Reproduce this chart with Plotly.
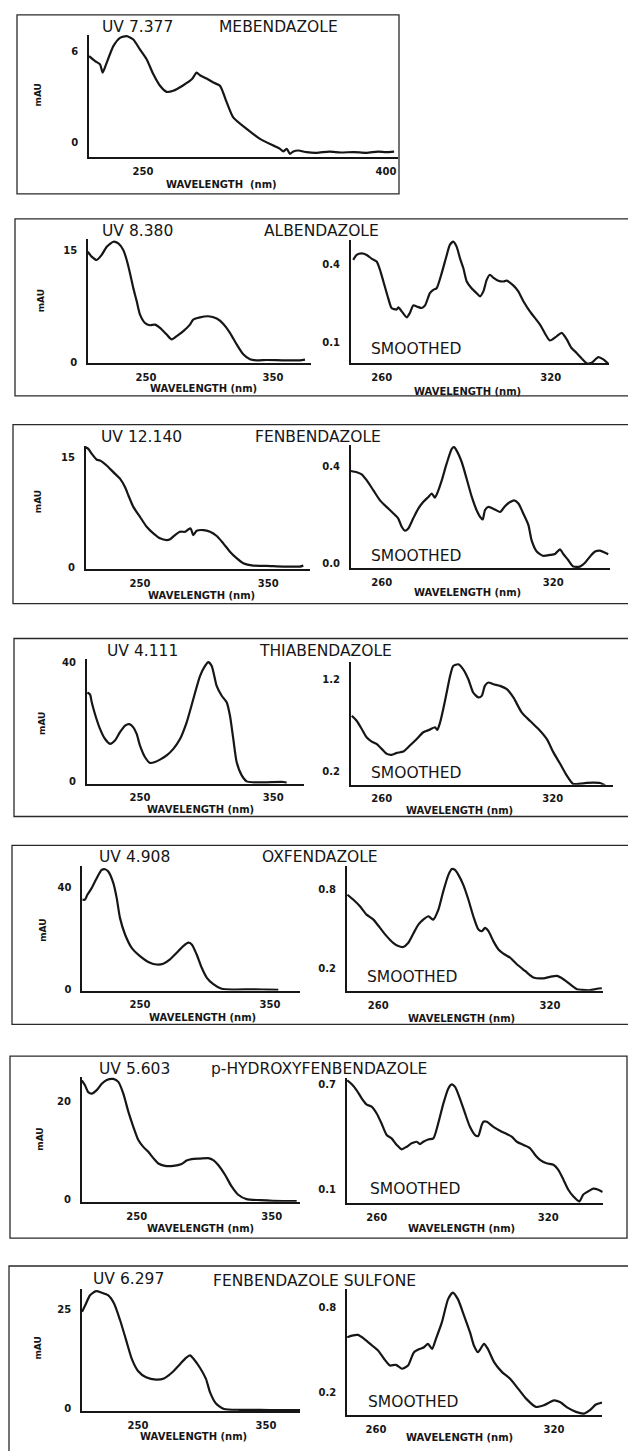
import plotly.graph_objects as go

W, H = 628, 1451
INK = "#161616"

# ---------------- data (wavelength nm, absorbance mAU) ----------------
meb_wl = [216.7, 220.4, 223.5, 225.1, 227.2, 231.7, 235.8, 239.9, 244.0, 248.1, 252.3, 256.4, 260.5, 264.6,
          268.7, 274.9, 280.1, 283.1, 285.2, 289.3, 293.4, 297.5, 301.7, 305.7, 314.0, 322.2, 330.4, 334.6,
          336.6, 338.7, 340.7, 342.8, 345.9, 351.0, 357.2, 365.0, 372.0, 380.0, 388.0, 395.0, 400.0, 405.0]
meb_abs = [5.71, 5.38, 5.16, 4.61, 5.16, 6.37, 6.92, 7.03, 6.81, 6.15, 5.49, 4.50, 3.74, 3.34,
           3.41, 3.78, 4.17, 4.61, 4.44, 4.22, 3.96, 3.74, 2.64, 1.65, 0.88, 0.22, -0.22, -0.44,
           -0.61, -0.44, -0.77, -0.61, -0.55, -0.66, -0.70, -0.62, -0.68, -0.65, -0.70, -0.62, -0.66, -0.62]

alb_wl = [204.1, 207.2, 211.2, 215.1, 219.1, 224.3, 228.2, 232.1, 234.8, 237.4, 240.0, 242.7, 245.3, 249.2,
          253.1, 257.1, 261.0, 266.3, 270.2, 274.2, 279.4, 284.6, 287.2, 292.5, 299.1, 305.7, 310.9, 316.1,
          321.4, 326.6, 331.9, 337.1, 345.0, 358.1, 371.3, 375.2]
alb_abs = [14.86, 14.19, 13.74, 14.42, 15.53, 16.2, 15.97, 15.08, 13.74, 11.95, 9.95, 8.17, 6.38, 5.26,
           4.95, 5.04, 4.6, 3.7, 3.04, 3.48, 4.15, 5.04, 5.71, 6.02, 6.16, 5.85, 5.13, 3.93,
           2.37, 1.03, 0.36, 0.22, 0.27, 0.22, 0.22, 0.31]

alb_s_wl = [249.9, 251.1, 252.9, 254.7, 256.5, 258.2, 259.4, 260.6, 262.3, 263.5, 265.3, 265.9, 267.1, 268.9,
            270.0, 271.2, 272.4, 274.2, 275.4, 277.1, 278.3, 279.5, 281.3, 283.1, 284.2, 285.4, 286.6, 287.8,
            289.0, 290.2, 291.9, 293.7, 294.9, 296.1, 297.3, 298.4, 299.6, 301.4, 303.2, 304.4, 306.7, 308.5,
            310.3, 312.6, 316.2, 319.7, 322.1, 323.9, 325.7, 327.4, 329.2, 331.0, 332.8, 334.5, 336.9, 338.7, 340.5]
alb_s_abs = [0.419, 0.438, 0.444, 0.438, 0.423, 0.413, 0.381, 0.336, 0.272, 0.234, 0.228, 0.236, 0.221, 0.198,
             0.215, 0.244, 0.240, 0.234, 0.244, 0.291, 0.304, 0.310, 0.368, 0.438, 0.477, 0.489, 0.470, 0.425,
             0.387, 0.336, 0.310, 0.291, 0.279, 0.298, 0.343, 0.362, 0.351, 0.339, 0.336, 0.339, 0.321, 0.298,
             0.260, 0.221, 0.170, 0.109, 0.125, 0.138, 0.113, 0.080, 0.061, 0.040, 0.021, 0.023, 0.045, 0.036, 0.019]

fen_wl = [207.7, 209.7, 212.4, 216.3, 218.8, 224.0, 229.2, 234.4, 238.3, 240.9, 244.8, 250.0, 255.2, 260.4,
          265.6, 270.8, 273.4, 277.3, 281.2, 285.1, 287.6, 289.5, 291.5, 294.2, 299.3, 304.6, 309.8, 314.9,
          320.1, 325.3, 330.5, 338.3, 348.7, 361.7, 374.7, 377.3]
fen_abs = [16.44, 16.22, 15.54, 14.73, 14.63, 13.95, 13.04, 12.15, 11.0, 9.88, 8.29, 6.93, 5.57, 4.67,
           3.99, 3.76, 3.86, 4.44, 4.89, 4.89, 5.21, 5.35, 4.44, 5.03, 5.12, 4.89, 4.31, 3.31,
           2.17, 1.28, 0.60, 0.27, 0.23, 0.14, 0.14, 0.27]

fen_s_wl = [249.2, 251.3, 253.0, 254.8, 257.1, 259.4, 261.7, 264.1, 265.8, 267.0, 268.1, 269.3, 271.0, 272.8,
            274.5, 276.3, 277.5, 278.6, 279.8, 281.0, 282.7, 284.5, 285.3, 286.2, 288.0, 289.7, 291.5, 293.2,
            294.4, 295.3, 296.1, 297.3, 299.6, 301.4, 303.1, 304.9, 306.3, 307.8, 309.5, 311.3, 312.4, 314.2,
            316.5, 318.9, 320.6, 322.3, 323.5, 325.2, 327.0, 329.3, 331.1, 332.8, 334.6, 336.3, 338.1, 339.2]
fen_s_abs = [0.380, 0.375, 0.366, 0.341, 0.300, 0.259, 0.232, 0.205, 0.184, 0.150, 0.134, 0.143, 0.184, 0.225,
             0.252, 0.273, 0.287, 0.270, 0.300, 0.341, 0.410, 0.471, 0.478, 0.464, 0.416, 0.348, 0.273, 0.218,
             0.191, 0.180, 0.218, 0.232, 0.221, 0.211, 0.235, 0.252, 0.259, 0.246, 0.205, 0.157, 0.095, 0.048,
             0.030, 0.034, 0.038, 0.057, 0.038, 0.013, -0.014, -0.014, 0.002, 0.027, 0.048, 0.052, 0.043, 0.037]

thia_wl = [210.5, 212.5, 213.8, 216.2, 220.0, 223.8, 227.5, 231.2, 235.0, 238.8, 242.0, 245.0, 247.5, 250.0,
           253.8, 257.5, 261.3, 265.0, 270.0, 275.0, 280.0, 285.0, 290.0, 295.0, 298.8, 301.2, 303.8, 307.5,
           311.3, 315.0, 317.5, 320.0, 322.5, 326.3, 330.0, 335.0, 345.0, 357.5, 360.0]
thia_abs = [29.8, 29.2, 26.5, 22.6, 17.6, 14.2, 12.6, 13.7, 16.5, 18.7, 19.2, 18.1, 15.9, 12.0,
            8.1, 6.2, 6.5, 7.3, 8.7, 10.9, 14.2, 19.8, 27.6, 35.3, 38.7, 40.0, 38.7, 32.0,
            28.7, 26.5, 22.0, 14.2, 6.5, 2.0, 0.0, -0.3, -0.3, -0.2, -0.4]

thia_s_wl = [249.5, 251.2, 253.0, 254.7, 256.5, 258.2, 260.0, 261.8, 263.5, 265.3, 267.6, 269.9, 272.3, 274.6,
             276.9, 278.7, 279.5, 280.5, 281.6, 282.8, 284.0, 285.1, 286.9, 288.6, 290.4, 292.1, 293.9, 295.1,
             296.2, 297.4, 299.2, 301.5, 303.9, 306.2, 309.1, 312.0, 315.0, 317.9, 320.2, 322.6, 324.9, 327.2,
             329.6, 331.9, 334.2, 336.6, 338.4]
thia_s_abs = [0.809, 0.754, 0.664, 0.574, 0.526, 0.501, 0.447, 0.392, 0.382, 0.403, 0.417, 0.483, 0.555, 0.628,
              0.657, 0.683, 0.653, 0.737, 0.882, 1.063, 1.243, 1.352, 1.371, 1.316, 1.208, 1.063, 1.009, 1.026,
              1.135, 1.172, 1.153, 1.135, 1.099, 1.009, 0.846, 0.754, 0.664, 0.555, 0.411, 0.284, 0.157, 0.063,
              0.066, 0.074, 0.077, 0.074, 0.048]

oxf_wl = [205.6, 207.7, 209.5, 212.8, 216.7, 220.5, 223.1, 225.6, 229.5, 232.1, 234.6, 238.5, 243.6, 250.0,
          257.7, 262.8, 267.9, 273.1, 278.2, 283.3, 287.2, 289.8, 293.6, 297.4, 301.3, 306.4, 312.8, 321.8,
          337.2, 347.4, 356.4]
oxf_abs = [35.2, 35.2, 37.1, 39.7, 43.6, 46.8, 47.1, 46.2, 41.7, 35.8, 28.1, 21.6, 16.4, 13.2,
           10.6, 9.9, 10.2, 11.9, 14.5, 17.1, 18.4, 17.7, 13.8, 8.7, 4.8, 2.2, 0.4, 0.1,
           0.2, 0.1, 0.0]

oxf_s_wl = [249.2, 251.3, 253.6, 255.9, 258.3, 260.6, 262.9, 265.2, 267.0, 268.7, 270.5, 272.2, 274.0, 275.7,
            277.5, 278.3, 279.2, 281.0, 282.7, 284.5, 285.7, 286.8, 288.0, 289.7, 291.5, 293.2, 295.0, 296.2,
            297.3, 298.5, 300.2, 302.0, 303.7, 306.1, 308.4, 311.3, 314.2, 317.7, 320.0, 322.4, 324.7, 327.0,
            329.4, 331.1, 334.0, 336.4, 338.1]
oxf_s_abs = [0.762, 0.724, 0.674, 0.610, 0.572, 0.509, 0.446, 0.395, 0.370, 0.363, 0.395, 0.464, 0.534, 0.572,
             0.598, 0.585, 0.572, 0.648, 0.788, 0.914, 0.959, 0.952, 0.914, 0.838, 0.724, 0.598, 0.496, 0.484,
             0.509, 0.484, 0.408, 0.344, 0.312, 0.281, 0.231, 0.180, 0.130, 0.124, 0.135, 0.142, 0.117, 0.079,
             0.041, 0.036, 0.033, 0.044, 0.048]

poh_wl = [209.3, 211.7, 214.1, 216.7, 220.4, 224.1, 227.8, 232.7, 236.4, 240.1, 243.8, 247.5, 251.2, 254.9,
          258.6, 262.3, 266.0, 271.0, 277.1, 283.3, 287.0, 290.7, 296.9, 303.0, 306.7, 310.4, 315.4, 320.3,
          325.2, 331.4, 341.3, 358.6, 368.5]
poh_abs = [24.4, 23.4, 22.0, 21.7, 22.4, 23.7, 24.5, 24.7, 24.1, 21.7, 18.0, 14.9, 12.2, 10.8,
           9.8, 8.5, 7.4, 6.9, 6.9, 7.3, 8.0, 8.3, 8.4, 8.5, 8.1, 7.1, 5.1, 2.7,
           1.0, 0.1, -0.1, -0.3, -0.3]

poh_s_wl = [249.7, 251.3, 253.0, 254.8, 256.5, 258.3, 260.0, 261.7, 263.5, 265.2, 267.0, 268.7, 270.5, 272.2,
            274.0, 275.1, 276.3, 278.0, 279.8, 281.5, 283.3, 285.0, 286.2, 287.4, 289.1, 290.9, 292.6, 294.4,
            295.5, 296.7, 297.3, 298.5, 300.8, 303.1, 305.5, 307.2, 309.0, 311.3, 313.6, 315.4, 317.1, 319.4,
            321.8, 323.5, 325.3, 327.0, 328.8, 330.9, 332.2, 334.0, 335.7, 337.5, 339.0]
poh_s_abs = [0.723, 0.700, 0.666, 0.619, 0.585, 0.572, 0.534, 0.477, 0.411, 0.392, 0.355, 0.330, 0.345, 0.364,
             0.373, 0.360, 0.373, 0.386, 0.392, 0.477, 0.590, 0.675, 0.700, 0.685, 0.619, 0.534, 0.458, 0.411,
             0.406, 0.468, 0.487, 0.487, 0.458, 0.436, 0.417, 0.402, 0.373, 0.355, 0.336, 0.298, 0.270, 0.251,
             0.242, 0.213, 0.157, 0.100, 0.062, 0.034, 0.072, 0.091, 0.106, 0.100, 0.087]

sulf_wl = [206.3, 209.4, 212.5, 217.2, 221.9, 226.6, 231.3, 235.9, 240.6, 245.3, 250.0, 256.3, 264.1, 270.3,
           276.6, 282.8, 287.5, 290.6, 293.8, 298.4, 303.1, 306.3, 310.9, 317.2, 329.7, 345.3, 360.9, 376.6]
sulf_abs = [24.3, 26.4, 28.5, 29.5, 29.1, 28.5, 26.4, 22.3, 17.3, 12.3, 9.4, 7.8, 7.2, 7.5,
            9.0, 11.1, 12.7, 13.3, 12.3, 10.2, 7.4, 4.0, 1.2, -0.2, -0.4, -0.4, -0.5, -0.5]

sulf_s_wl = [250.3, 251.9, 253.9, 256.0, 258.7, 260.7, 262.7, 264.7, 266.7, 268.8, 270.8, 272.8, 274.8, 276.2,
             277.5, 278.9, 280.2, 282.2, 284.3, 285.9, 287.6, 289.7, 291.7, 293.0, 294.4, 296.4, 297.7, 299.8,
             302.5, 305.2, 307.9, 310.6, 313.9, 316.6, 320.0, 322.0, 324.7, 327.4, 330.1, 332.1, 334.1, 336.2]
sulf_s_abs = [0.588, 0.600, 0.605, 0.577, 0.530, 0.494, 0.436, 0.388, 0.393, 0.365, 0.388, 0.482, 0.506, 0.518,
              0.542, 0.506, 0.577, 0.694, 0.859, 0.906, 0.859, 0.741, 0.623, 0.530, 0.482, 0.542, 0.506, 0.412,
              0.341, 0.294, 0.224, 0.153, 0.094, 0.106, 0.141, 0.129, 0.087, 0.059, 0.047, 0.071, 0.111, 0.125]

# tick values
LEFT_XTICKS = [250, 350]
MEB_XTICKS = [250, 400]
RIGHT_XTICKS = [260, 320]
MEB_YTICKS = [0, 6]
ALB_YTICKS = [0, 15]
ALB_S_YTICKS = [0.1, 0.4]
FEN_YTICKS = [0, 15]
FEN_S_YTICKS = [0.0, 0.4]
THIA_YTICKS = [0, 40]
THIA_S_YTICKS = [0.2, 1.2]
OXF_YTICKS = [0, 40]
OXF_S_YTICKS = [0.2, 0.8]
POH_YTICKS = [0, 20]
POH_S_YTICKS = [0.1, 0.7]
SULF_YTICKS = [0, 25]
SULF_S_YTICKS = [0.2, 0.8]

# ---------------- layout helpers (pixel calibration of each panel) ----------------
# (x, y, xticks, yticks, yfmt, x tick pixel centres, y tick pixel centres, plot box px L,R,T,B)
panels = [
    (meb_wl, meb_abs, MEB_XTICKS, MEB_YTICKS, "d", (143, 386), (140, 49), (89, 398, 32, 155)),
    (alb_wl, alb_abs, LEFT_XTICKS, ALB_YTICKS, "d", (146, 273), (361, 249), (88, 311, 237, 362)),
    (alb_s_wl, alb_s_abs, RIGHT_XTICKS, ALB_S_YTICKS, ".1f", (381.7, 550.7), (341.7, 263.3), (350.7, 609, 238, 362)),
    (fen_wl, fen_abs, LEFT_XTICKS, FEN_YTICKS, "d", (140, 268.3), (567.7, 457.3), (85.7, 310, 445, 569)),
    (fen_s_wl, fen_s_abs, RIGHT_XTICKS, FEN_S_YTICKS, ".1f", (381.7, 553.3), (563.3, 465.7), (350.7, 610, 444, 568.3)),
    (thia_wl, thia_abs, LEFT_XTICKS, THIA_YTICKS, "d", (140, 273.3), (782.7, 662.7), (86.7, 304, 660, 785)),
    (thia_s_wl, thia_s_abs, RIGHT_XTICKS, THIA_S_YTICKS, ".1f", (381.7, 552.7), (772.7, 680.7), (350.7, 613.3, 663, 786)),
    (oxf_wl, oxf_abs, LEFT_XTICKS, OXF_YTICKS, "d", (140, 270), (992.3, 889.3), (82.3, 300, 868, 993)),
    (oxf_s_wl, oxf_s_abs, RIGHT_XTICKS, OXF_S_YTICKS, ".1f", (378.3, 550), (970.7, 891.7), (346.7, 603.3, 868, 993.3)),
    (poh_wl, poh_abs, LEFT_XTICKS, POH_YTICKS, "d", (136.7, 271.7), (1203.3, 1105), (81.7, 300, 1080, 1205.5)),
    (poh_s_wl, poh_s_abs, RIGHT_XTICKS, POH_S_YTICKS, ".1f", (376.7, 548.3), (1193.3, 1087.3), (346.7, 602.7, 1081, 1206.7)),
    (sulf_wl, sulf_abs, LEFT_XTICKS, SULF_YTICKS, "d", (138, 266), (1413, 1313.3), (82, 300, 1293, 1416)),
    (sulf_s_wl, sulf_s_abs, RIGHT_XTICKS, SULF_S_YTICKS, ".1f", (376, 554), (1396.7, 1311.7), (347, 602, 1293, 1420)),
]


def calib(ticks, pxs, lo, hi):
    v0, v1 = ticks
    p0, p1 = pxs
    s = (v1 - v0) / (p1 - p0)
    return [v0 + (lo - p0) * s, v0 + (hi - p0) * s]


TICKFONT = dict(family="DejaVu Sans", size=10, color=INK, weight="bold")

fig = go.Figure()
layout = dict(
    width=W, height=H, margin=dict(l=0, r=0, t=0, b=0),
    paper_bgcolor="white", plot_bgcolor="white", showlegend=False,
)

for i, (xs, ys, xt, yt, yfmt, xcal, ycal, box) in enumerate(panels, start=1):
    L, R, T, B = box
    sfx = "" if i == 1 else str(i)
    fig.add_trace(go.Scatter(
        x=xs, y=ys, mode="lines", xaxis="x" + sfx, yaxis="y" + sfx,
        line=dict(color=INK, width=2.2, shape="spline", smoothing=0.6),
        hoverinfo="skip",
    ))
    layout["xaxis" + sfx] = dict(
        domain=[L / W, R / W], range=calib(xt, xcal, L, R), anchor="y" + sfx,
        showline=True, linecolor=INK, linewidth=1.6, showgrid=False, zeroline=False,
        tickvals=xt, ticks="outside", ticklen=4, tickcolor="rgba(0,0,0,0)",
        tickfont=TICKFONT, fixedrange=True,
    )
    layout["yaxis" + sfx] = dict(
        domain=[1 - B / H, 1 - T / H], range=calib(yt, ycal, B, T), anchor="x" + sfx,
        showline=True, linecolor=INK, linewidth=1.6, showgrid=False, zeroline=False,
        tickvals=yt, tickformat=yfmt, ticks="outside", ticklen=7, tickcolor="rgba(0,0,0,0)",
        tickfont=TICKFONT, fixedrange=True,
    )

# ---------------- text ----------------
annots = []


def txt(s, x, y, size=15.5, bold=False, angle=0):
    annots.append(dict(
        text=s, x=x / W, y=1 - y / H, xref="paper", yref="paper", showarrow=False,
        xanchor="center", yanchor="middle", textangle=angle,
        font=dict(family="DejaVu Sans", size=size, color=INK, weight="bold" if bold else "normal"),
    ))


rows = [
    ("UV 7.377", 137, 24, "MEBENDAZOLE", 278, 24, (38, 93), [(222, 183)], None),
    ("UV 8.380", 137.5, 229, "ALBENDAZOLE", 321, 229, (41, 300), [(203, 388), (468, 391)], (416, 348)),
    ("UV 12.140", 141, 436, "FENBENDAZOLE", 317.5, 436, (38, 502), [(201, 596), (467, 593)], (416, 556)),
    ("UV 4.111", 142, 652, "THIABENDAZOLE", 325, 652, (42, 725), [(200, 811), (459, 812)], (416, 774)),
    ("UV 4.908", 134, 859, "OXFENDAZOLE", 320, 859, (43, 933), [(202, 1020), (462, 1021)], (412, 979)),
    ("UV 5.603", 134, 1072, "p-HYDROXYFENBENDAZOLE", 319, 1072, (40, 1143), [(200, 1232), (461, 1232)], (415, 1193)),
    ("UV 6.297", 128, 1283, "FENBENDAZOLE SULFONE", 314, 1285, (38, 1353), [(193, 1441), (460, 1442)], (413, 1407)),
]
for uv, ux, uy, name, nx, ny, mau, wls, sm in rows:
    txt(uv, ux, uy)
    txt(name, nx, ny)
    txt("mAU", mau[0], mau[1], size=9, bold=True, angle=-90)
    for j, (wx, wy) in enumerate(wls):
        txt("WAVELENGTH  (nm)" if (sm is None) else "WAVELENGTH (nm)", wx, wy, size=10, bold=True)
    if sm is not None:
        txt("SMOOTHED", sm[0], sm[1])

layout["annotations"] = annots

# ---------------- frames around each row ----------------
frames = [(17, 399, 12, 192), (15, 640, 217, 395), (13, 640, 424, 604), (14, 640, 639, 818),
          (12, 640, 847, 1027), (10, 627, 1059, 1242), (9, 640, 1270, 1465)]
shapes = []
for x0, x1, y0, y1 in frames:
    shapes.append(dict(type="rect", xref="paper", yref="paper",
                       x0=x0 / W, x1=x1 / W, y0=1 - y1 / H, y1=1 - y0 / H,
                       line=dict(color="#2a2a2a", width=1.3), fillcolor="rgba(0,0,0,0)", layer="below"))
layout["shapes"] = shapes

fig.update_layout(**layout)
fig.write_html("out.html", config={"displayModeBar": False},
               post_script="document.body.style.margin='0px';document.body.style.overflow='hidden';")
